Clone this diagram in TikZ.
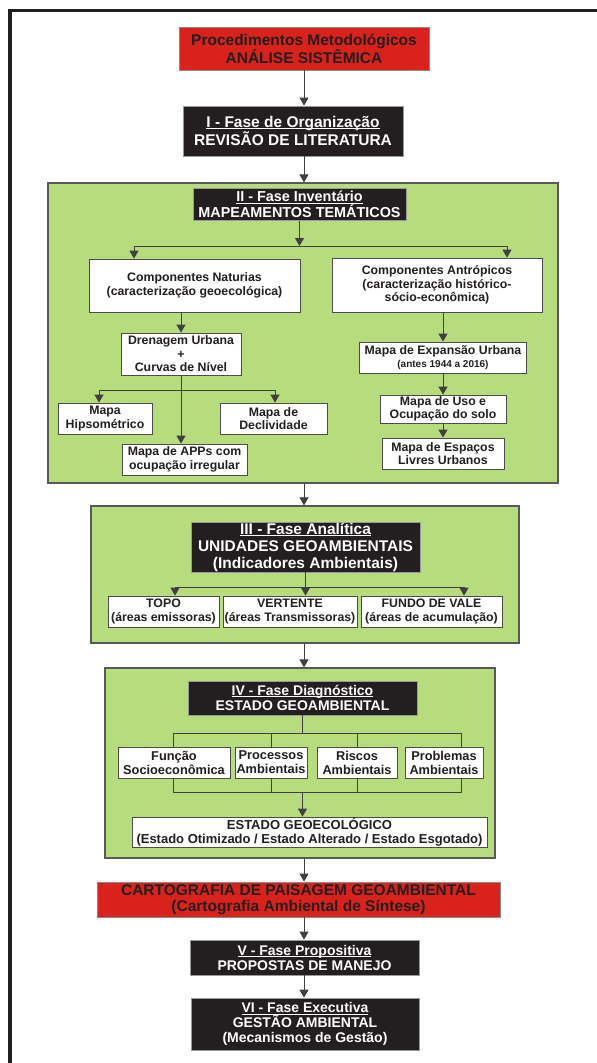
\documentclass[tikz,border=0pt]{standalone}
\usepackage{fontspec}
\setmainfont{Liberation Sans}
\usepackage{tikz}
\usetikzlibrary{arrows.meta}
\definecolor{cartored}{RGB}{217,34,28}
\definecolor{phasegreen}{RGB}{183,220,125}
\definecolor{nearblack}{RGB}{35,31,32}
\newcommand{\phaseul}[1]{\setbox0\hbox{#1}\rlap{\rule[-1.8pt]{\wd0}{0.9pt}}\box0}

\begin{document}
\begin{tikzpicture}[x=1pt,y=-1pt,
  box/.style={draw=black!70,line width=0.8pt,fill=white,inner sep=0pt,align=center,text=nearblack,font=\fontsize{12.3}{13.5}\selectfont\bfseries},
  itembox/.style={box,font=\fontsize{12.8}{14}\selectfont\bfseries},
  redbox/.style={box,fill=cartored,draw=black!45,font=\fontsize{15.5}{16.5}\selectfont\bfseries},
  darkbox/.style={box,fill=nearblack,draw=black!40,text=white,font=\fontsize{15.5}{17}\selectfont\bfseries},
  panel/.style={draw=black!65,line width=1.2pt,fill=phasegreen,inner sep=0pt},
  conn/.style={draw=black!75,line width=1pt,-{Triangle[width=9pt,length=8pt]}},
  link/.style={draw=black!75,line width=1pt}]
\useasboundingbox (0,0) rectangle (597,1063);
\draw[line width=3.5pt,nearblack] (597,10.5) -- (10,10.5) -- (10,1063);

\node[redbox,minimum width=250pt,minimum height=43pt] (proc) at (304,48.5) {Procedimentos Metodológicos\\ANÁLISE SISTÊMICA};
\node[darkbox,minimum width=220pt,minimum height=50pt] (fase1) at (293,131) {\phaseul{I - Fase de Organização}\\REVISÃO DE LITERATURA};

% fase II
\node[panel,minimum width=510pt,minimum height=300pt] (g2) at (303,333) {};
\node[darkbox,font=\fontsize{14.4}{15.5}\selectfont\bfseries,minimum width=213pt,minimum height=32pt] (fase2) at (299.5,204.5) {\phaseul{II - Fase Inventário}\\MAPEAMENTOS TEMÁTICOS};
\node[box,minimum width=211pt,minimum height=53pt] (nat) at (194.5,285.5) {Componentes Naturias\\(caracterização geoecológica)};
\node[box,minimum width=210pt,minimum height=54pt] (antr) at (437,285) {Componentes Antrópicos\\(caracterização histórico-\\sócio-econômica)};
\node[box,minimum width=120pt,minimum height=42pt] (dren) at (181,354) {Drenagem Urbana\\+\\Curvas de Nível};
\node[box,minimum width=94pt,minimum height=31pt] (hips) at (105,418.5) {Mapa\\Hipsométrico};
\node[box,minimum width=107pt,minimum height=31pt] (decl) at (273.5,418.5) {Mapa de\\Declividade};
\node[box,minimum width=125pt,minimum height=31pt] (apps) at (184.5,459.5) {Mapa de APPs com\\ocupação irregular};
\node[box,minimum width=167pt,minimum height=31pt] (expa) at (443,357.5) {Mapa de Expansão Urbana\\{\fontsize{10}{11}\selectfont(antes 1944 a 2016)}};
\node[box,minimum width=126pt,minimum height=28pt] (uso) at (443,409) {Mapa de Uso e\\Ocupação do solo};
\node[box,minimum width=122pt,minimum height=31pt] (espa) at (443,453.5) {Mapa de Espaços\\Livres Urbanos};

% fase III
\node[panel,minimum width=428pt,minimum height=137pt] (g3) at (305,574.5) {};
\node[darkbox,minimum width=229pt,minimum height=50pt] (fase3) at (305.5,547) {\phaseul{III - Fase Analítica}\\UNIDADES GEOAMBIENTAIS\\(Indicadores Ambientais)};
\node[box,minimum width=111pt,minimum height=31pt] (topo) at (163.5,611.5) {TOPO\\(áreas emissoras)};
\node[box,minimum width=134pt,minimum height=31pt] (vert) at (290,611.5) {VERTENTE\\(áreas Transmissoras)};
\node[box,minimum width=141pt,minimum height=31pt] (fundo) at (431.5,611.5) {FUNDO DE VALE\\(áreas de acumulação)};

% fase IV
\node[panel,minimum width=390pt,minimum height=190pt] (g4) at (300,763) {};
\node[darkbox,font=\fontsize{14}{15.5}\selectfont\bfseries,minimum width=229pt,minimum height=34pt] (fase4) at (302.5,698) {\phaseul{IV - Fase Diagnóstico}\\ESTADO GEOAMBIENTAL};
\node[itembox,minimum width=112pt,minimum height=31pt] (func) at (174,762.5) {Função\\Socioeconômica};
\node[itembox,minimum width=72pt,minimum height=31pt] (procs) at (271,762.5) {Processos\\Ambientais};
\node[itembox,minimum width=80pt,minimum height=31pt] (risc) at (357,762.5) {Riscos\\Ambientais};
\node[itembox,minimum width=78pt,minimum height=31pt] (prob) at (444,762.5) {Problemas\\Ambientais};
\node[box,font=\fontsize{13}{14.5}\selectfont\bfseries,minimum width=355pt,minimum height=30pt] (estado) at (309.5,832) {ESTADO GEOECOLÓGICO\\(Estado Otimizado / Estado Alterado / Estado Esgotado)};

\node[redbox,minimum width=403pt,minimum height=35pt] (carto) at (298.5,899.5) {CARTOGRAFIA DE PAISAGEM GEOAMBIENTAL\\(Cartografia Ambiental de Síntese)};
\node[darkbox,font=\fontsize{14}{15}\selectfont\bfseries,minimum width=229pt,minimum height=35pt] (fase5) at (304.5,957.5) {\phaseul{V - Fase Propositiva}\\PROPOSTAS DE MANEJO};
\node[darkbox,font=\fontsize{14}{15}\selectfont\bfseries,minimum width=228pt,minimum height=52pt] (fase6) at (305,1024) {\phaseul{VI - Fase Executiva}\\GESTÃO AMBIENTAL\\(Mecanismos de Gestão)};

\coordinate (bar2l) at (134,246);
\coordinate (bar2r) at (507,246);
\coordinate (bar4l) at (99,390);
\coordinate (bar4r) at (275,390);
\coordinate (bar3l) at (175,587);
\coordinate (bar3r) at (464,587);
\coordinate (bar5l) at (173,733);
\coordinate (bar5r) at (461,733);
\coordinate (bar6l) at (173,792);
\coordinate (bar6r) at (461,792);

\draw[conn] (proc.south) -- (proc.south |- fase1.north);
\draw[conn] (fase1.south -| proc.south) -- (g2.north -| proc.south);
\draw[conn] (fase2.south) -- (fase2.south |- bar2l);
\draw[conn] (fase2.south |- bar2l) -| (bar2l |- nat.north);
\draw[conn] (fase2.south |- bar2r) -| (bar2r |- antr.north);
\draw[conn] (nat.south -| dren.north) -- (dren.north);
\draw[conn] (dren.south) -- (dren.south |- apps.north);
\draw[conn] (dren.south |- bar4l) -| (bar4l |- hips.north);
\draw[conn] (dren.south |- bar4r) -| (bar4r |- decl.north);
\draw[conn] (antr.south -| expa.north) -- (expa.north);
\draw[conn] (expa.south) -- (uso.north);
\draw[conn] (uso.south) -- (espa.north);

\draw[conn] (g2.south -| proc.south) -- (g3.north -| proc.south);
\draw[conn] (fase3.south) -- (fase3.south |- vert.north);
\draw[conn] (fase3.south |- bar3l) -| (bar3l |- topo.north);
\draw[conn] (fase3.south |- bar3r) -| (bar3r |- fundo.north);

\draw[conn] (g3.south -| proc.south) -- (g4.north -| proc.south);
\draw[link] (fase4.south) -- (fase4.south |- bar5l);
\draw[link] (bar5l |- func.north) -- (bar5l) -- (bar5r) -- (bar5r |- prob.north);
\draw[link] (procs.north |- bar5l) -- (procs.north);
\draw[link] (risc.north |- bar5l) -- (risc.north);
\draw[link] (bar6l |- func.south) -- (bar6l) -- (bar6r) -- (bar6r |- prob.south);
\draw[link] (procs.south) -- (procs.south |- bar6l);
\draw[link] (risc.south) -- (risc.south |- bar6l);
\draw[conn] (fase4.south |- bar6l) -- (fase4.south |- estado.north);

\draw[conn] (g4.south -| proc.south) -- (carto.north -| proc.south);
\draw[conn] (carto.south -| proc.south) -- (fase5.north -| proc.south);
\draw[conn] (fase5.south -| proc.south) -- (fase6.north -| proc.south);
\end{tikzpicture}
\end{document}
